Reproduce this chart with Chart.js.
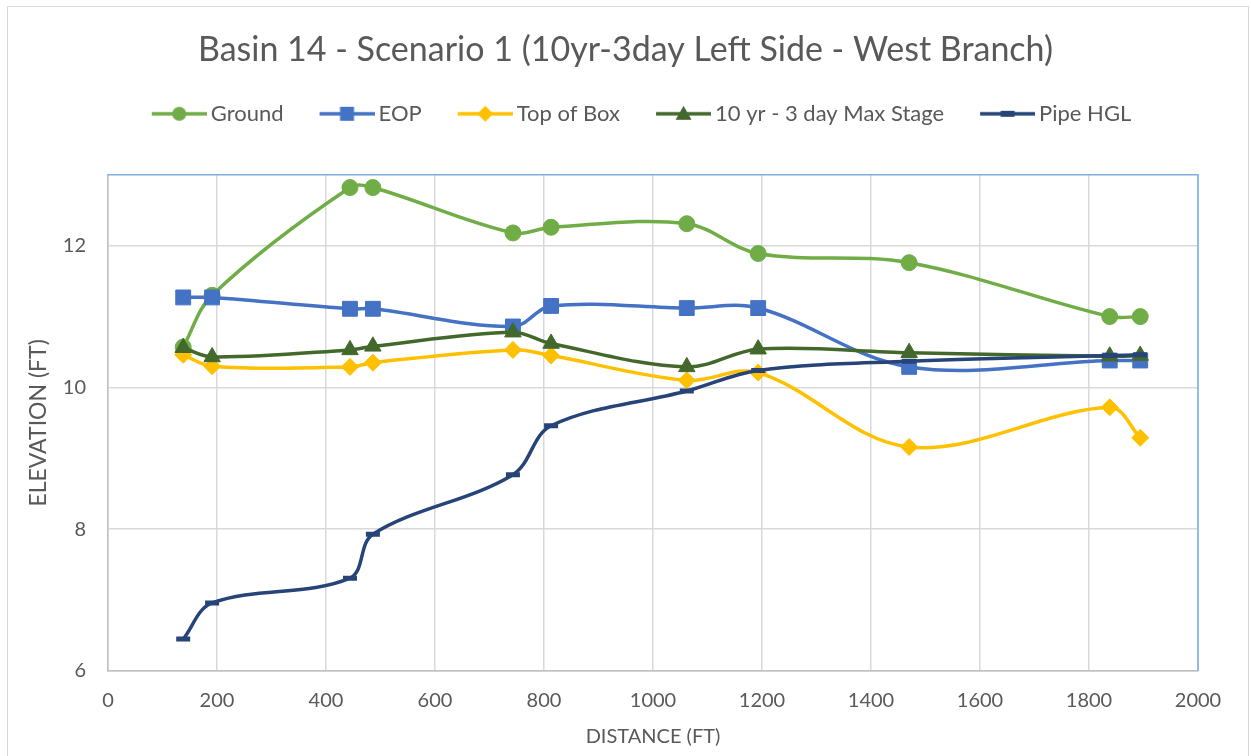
<!DOCTYPE html>
<html>
<head>
<meta charset="utf-8">
<script src="https://cdn.jsdelivr.net/npm/chart.js@4.4.1/dist/chart.umd.min.js"></script>
<style>
  html, body { margin: 0; padding: 0; background: #fff; }
  #wrap { position: relative; width: 1251px; height: 756px; }
  #frame { position: absolute; left: 7px; top: 6px; width: 1242px; height: 760px; border: 1.5px solid #d9d9d9; box-sizing: border-box; pointer-events: none; }
</style>
</head>
<body>
<div id="wrap">
  <canvas id="profile" width="1251" height="756"></canvas>
  <div id="frame"></div>
</div>
<script>
// distance along the branch (ft)
const distance = [138, 191, 444, 486, 743, 813, 1062, 1193, 1470, 1838, 1894];

// elevations (ft)
const ground   = [10.57, 11.30, 12.82, 12.82, 12.18, 12.26, 12.31, 11.89, 11.76, 11.00, 11.00];
const eop      = [11.27, 11.27, 11.11, 11.11, 10.86, 11.15, 11.12, 11.12, 10.29, 10.38, 10.38];
const topOfBox = [10.46, 10.30, 10.29, 10.35, 10.53, 10.45, 10.10, 10.21, 9.16, 9.72, 9.29];
const maxStage = [10.56, 10.43, 10.53, 10.58, 10.78, 10.62, 10.29, 10.54, 10.49, 10.44, 10.45];
const pipeHgl  = [6.45, 6.96, 7.31, 7.93, 8.77, 9.46, 9.95, 10.24, 10.37, 10.45, 10.46];

const seriesNames = ['Ground', 'EOP', 'Top of Box', '10 yr - 3 day Max Stage', 'Pipe HGL'];
const xTicks = [0, 200, 400, 600, 800, 1000, 1200, 1400, 1600, 1800, 2000];
const yTicks = [6, 8, 10, 12];

const FONT = 'Lato, "Open Sans", sans-serif';
const GREY = '#595959';

const styles = [
  { color: '#70AD47', shape: 'circle',   radius: 8 },
  { color: '#4472C4', shape: 'rect',     radius: 10.5 },
  { color: '#FFC000', shape: 'rectRot',  radius: 8.5 },
  { color: '#43682B', shape: 'triangle', radius: 9.5 },
  { color: '#264478', shape: 'line',     radius: 7 }
];

function pts(ys) {
  return distance.map((d, i) => ({ x: d, y: ys[i] }));
}

// legend symbol: line with the marker in the middle.
// canvas is wider on the left so the symbol sits closer to its label
function legendIcon(st) {
  const c = document.createElement('canvas');
  c.width = 70; c.height = 20;
  const g = c.getContext('2d');
  const mid = 42.5;
  g.strokeStyle = st.color; g.fillStyle = st.color;
  g.lineWidth = 3.5;
  g.beginPath(); g.moveTo(15, 10); g.lineTo(70, 10); g.stroke();
  g.beginPath();
  if (st.shape === 'circle') {
    g.arc(mid, 10, 7, 0, Math.PI * 2); g.fill();
  } else if (st.shape === 'rect') {
    g.fillRect(mid - 7, 3, 14, 14);
  } else if (st.shape === 'rectRot') {
    g.moveTo(mid, 2); g.lineTo(mid + 8, 10); g.lineTo(mid, 18); g.lineTo(mid - 8, 10); g.closePath(); g.fill();
  } else if (st.shape === 'triangle') {
    g.moveTo(mid, 2); g.lineTo(mid + 8, 16); g.lineTo(mid - 8, 16); g.closePath(); g.fill();
  } else {
    g.fillRect(mid - 7, 7, 14, 6);
  }
  return c;
}
const icons = styles.map(legendIcon);

const allSeries = [ground, eop, topOfBox, maxStage, pipeHgl];
const datasets = allSeries.map((ys, i) => ({
  label: seriesNames[i],
  data: pts(ys),
  borderColor: styles[i].color,
  backgroundColor: styles[i].color,
  borderWidth: 3.5,
  tension: 0.35,
  pointStyle: styles[i].shape,
  pointRadius: styles[i].radius,
  pointHoverRadius: styles[i].radius,
  pointBorderColor: styles[i].color,
  pointBackgroundColor: styles[i].color,
  pointBorderWidth: styles[i].shape === 'line' ? 5 : 1,
  order: allSeries.length - i
}));

const plotFrame = {
  id: 'plotFrame',
  afterLayout(chart) {
    // legend row sits a little right of centre in the original
    chart.legend.left += 12;
    chart.legend.right += 12;
  },
  beforeDatasetsDraw(chart) {
    const a = chart.chartArea, ctx = chart.ctx;
    ctx.save();
    ctx.strokeStyle = '#7FAEDF';
    ctx.lineWidth = 1.5;
    ctx.beginPath();
    ctx.moveTo(a.left, a.top); ctx.lineTo(a.right, a.top); ctx.lineTo(a.right, a.bottom);
    ctx.stroke();
    ctx.restore();
  }
};

// empty axes that only reserve space around the plot
const spacer = (pos, size) => ({
  type: 'linear',
  position: pos,
  display: true,
  afterFit: s => { if (pos === 'top') s.height = size; else s.width = size; },
  grid: { display: false },
  border: { display: false },
  ticks: { display: false }
});

new Chart(document.getElementById('profile').getContext('2d'), {
  type: 'line',
  data: { datasets: datasets },
  options: {
    responsive: false,
    animation: false,
    layout: { padding: 0 },
    plugins: {
      title: {
        display: true,
        text: 'Basin 14 - Scenario 1 (10yr-3day Left Side - West Branch)',
        color: GREY,
        font: { family: FONT, size: 34, weight: 'normal' },
        padding: { top: 30, bottom: 4 }
      },
      legend: {
        display: true,
        position: 'top',
        labels: {
          color: GREY,
          font: { family: FONT, size: 22 },
          usePointStyle: true,
          pointStyleWidth: 56,
          boxHeight: 20,
          padding: 28,
          sort: (a, b) => a.datasetIndex - b.datasetIndex,
          generateLabels(chart) {
            const items = Chart.defaults.plugins.legend.labels.generateLabels(chart);
            items.forEach(it => { it.pointStyle = icons[it.datasetIndex]; });
            return items;
          }
        }
      },
      tooltip: { enabled: false }
    },
    scales: {
      x: {
        type: 'linear',
        min: 0, max: 2000,
        afterFit: s => { s.height = 85; },
        afterBuildTicks: s => { s.ticks = xTicks.map(v => ({ value: v })); },
        grid: { color: '#d9d9d9', lineWidth: 1.5, drawTicks: false },
        border: { color: '#bfbfbf', width: 1.5 },
        ticks: { color: GREY, font: { family: FONT, size: 20 }, padding: 18, maxRotation: 0, callback: v => String(v) },
        title: { display: true, text: 'DISTANCE (FT)', color: GREY, font: { family: FONT, size: 20 }, padding: { top: 0, bottom: 7 } }
      },
      spaceTop: spacer('top', 40),
      spaceRight: spacer('right', 53),
      y: {
        type: 'linear',
        min: 6, max: 13,
        afterFit: s => { s.width = 108; },
        afterBuildTicks: s => { s.ticks = yTicks.map(v => ({ value: v })); },
        grid: { color: '#d9d9d9', lineWidth: 1.5, drawTicks: false },
        border: { color: '#bfbfbf', width: 1.5 },
        ticks: { color: GREY, font: { family: FONT, size: 20 }, padding: 22 },
        title: { display: true, text: 'ELEVATION (FT)', color: GREY, font: { family: FONT, size: 23 }, padding: { top: 25, bottom: 0 } }
      }
    }
  },
  plugins: [plotFrame]
});
</script>
</body>
</html>
